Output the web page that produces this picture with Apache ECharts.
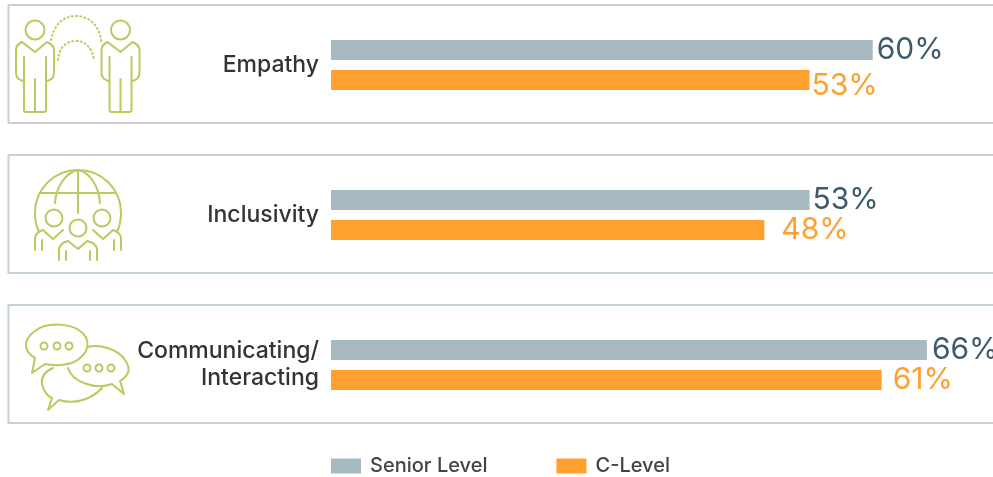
<!DOCTYPE html>
<html>
<head>
<meta charset="utf-8">
<style>html,body{margin:0;padding:0;background:#fff}#c{width:993px;height:477px}</style>
<script src="https://cdn.jsdelivr.net/npm/echarts@6/dist/echarts.min.js"></script>
</head>
<body>
<div id="c"></div>
<script>
// Skills, with the share of each leadership level that rated them
const categories = ['Empathy', 'Inclusivity', 'Communicating/\nInteracting'];
const seniorLevel = [60, 53, 66];
const cLevel = [53, 48, 61];
const seriesNames = ['Senior Level', 'C-Level'];

const FONT = 'Inter, "Open Sans", sans-serif';
const GREY = '#a7bac2', ORANGE = '#ffa02f', SLATE = '#3f5b6b', ICON = '#bcc95e';
const panelTops = [5, 155, 305];
const PANEL_H = 118;

// Hand placement of the value labels relative to the end of their bars
const seniorLabelShift = [[0, 0], [-1, 0], [1, 0]];
const cLevelLabelShift = [[-2, 6], [13, 0], [7, 0]];
const categoryPadTop = [0, 2, 4];

const grids = [], xAxes = [], yAxes = [], series = [];
categories.forEach((cat, i) => {
  grids.push({ left: 331, width: 632, top: panelTops[i] + 1, height: PANEL_H });
  xAxes.push({ gridIndex: i, type: 'value', min: 0, max: 70, show: false });
  yAxes.push({
    gridIndex: i, type: 'category', inverse: true, data: [cat],
    axisLine: { show: false }, axisTick: { show: false },
    axisLabel: { margin: 12, color: '#333', fontFamily: FONT, fontSize: 23, fontWeight: 500, lineHeight: 27, align: 'right', padding: [categoryPadTop[i], 0, 0, 0] }
  });
  [
    [seriesNames[0], seniorLevel, GREY, SLATE, seniorLabelShift],
    [seriesNames[1], cLevel, ORANGE, ORANGE, cLevelLabelShift]
  ].forEach(([name, vals, col, txt, shift]) => {
    series.push({
      name, type: 'bar', xAxisIndex: i, yAxisIndex: i, data: [vals[i]],
      barWidth: 20, barGap: '50%', itemStyle: { color: col }, silent: true,
      label: { show: true, position: 'right', distance: 4, offset: shift[i], formatter: '{c}%', color: txt, fontFamily: FONT, fontSize: 30, fontWeight: 400 }
    });
  });
});

// Outline helpers for the panel frames and pictograms
const line = { stroke: ICON, lineWidth: 2, fill: 'none', lineCap: 'round', lineJoin: 'round' };
let shapeCount = 0;
const pathEl = (d, style) => {
  const name = 'iconPath' + (shapeCount++);
  echarts.graphic.registerShape(name, echarts.graphic.extendPath(d, {}));
  return { type: name, style: Object.assign({}, line, style) };
};
const ring = (cx, cy, r) => ({ type: 'circle', shape: { cx, cy, r }, style: Object.assign({}, line) });

function person(dx) {
  const t = n => n + dx;
  return [
    ring(t(35), 30, 9.5),
    pathEl(`M${t(23)} 81 Q${t(16)} 79 ${t(16)} 73 L${t(16)} 50 Q${t(16)} 45 ${t(22)} 42 L${t(35)} 52 L${t(47)} 42 Q${t(54)} 45 ${t(54)} 50 L${t(54)} 73 Q${t(54)} 79 ${t(47)} 81`),
    pathEl(`M${t(24)} 57 L${t(24)} 110 Q${t(24)} 112 ${t(26)} 112 L${t(44)} 112 Q${t(46)} 112 ${t(46)} 110 L${t(46)} 57`),
    pathEl(`M${t(35)} 79 L${t(35)} 112`)
  ];
}
const dotted = { lineDash: [1, 3.2], lineWidth: 2 };
const empathyIcon = [
  ...person(0), ...person(85.5),
  pathEl('M51 40 C54 24 64 16 76 16 C89 16 100 26 101 41', dotted),
  pathEl('M58 60 C59 48 66 41 76 41 C86 41 93 49 94 61', dotted)
];
const inclusivityIcon = [
  pathEl('M39 232 C36 226 35 220 35 213 C35 189 54 170 78 170 C102 170 121 189 121 213 C121 220 120 226 117 232'),
  pathEl('M78 170 L78 213'),
  pathEl('M39.5 193 L115 193'),
  pathEl('M55 203 C56 187 66 172 78 170 C90 172 99 187 100 203'),
  ring(54, 218, 8.5), ring(78, 228, 8.5), ring(102, 218, 8.5),
  pathEl('M35 250 L35 238 Q36 232 43 230 L53 239 L63 230'),
  pathEl('M121 250 L121 238 Q120 232 113 230 L103 239 L93 230'),
  pathEl('M42 240 L42 250'), pathEl('M114 240 L114 250'),
  pathEl('M59 260 L59 249 Q60 243 68 241 L78 249 L87 241 Q96 243 97 249 L97 260'),
  pathEl('M66 251 L66 260'), pathEl('M90 251 L90 260')
];
const chatIcon = [
  pathEl('M45 364 C55 366 72 366 80 358 C90 350 90 338 80 331 C70 323 46 322 35 331 C22 340 24 352 35 358 L32 373 Z'),
  pathEl('M88 347 C100 344 118 349 125 360 C132 370 128 376 120 381 L124 394 L112 384 C95 390 72 382 68 368'),
  pathEl('M53 368 C44 372 41 378 42 384 C44 392 47 396 52 398 L48 410 L59 400 C75 405 92 399 102 388'),
  ring(44, 346, 3.5), ring(57, 346, 3.5), ring(69, 346, 3.5),
  ring(87, 368, 3.5), ring(99, 368, 3.5), ring(111, 368, 3.5)
];
const frames = panelTops.map(top => ({
  type: 'rect', shape: { x: 8.5, y: top, width: 1000, height: PANEL_H },
  style: { fill: '#fff', stroke: '#c6d3d7', lineWidth: 2 }, z: -10
}));

const chart = echarts.init(document.getElementById('c'), null, { renderer: 'canvas' });
chart.setOption({
  animation: false,
  backgroundColor: '#fff',
  grid: grids, xAxis: xAxes, yAxis: yAxes, series,
  legend: {
    data: seriesNames, left: 326, top: 451, orient: 'horizontal', selectedMode: false,
    icon: 'rect', itemWidth: 30, itemHeight: 15, itemGap: 69,
    textStyle: { color: '#444', fontFamily: FONT, fontSize: 20, fontWeight: 500, padding: [0, 0, 0, 4] }
  },
  graphic: { elements: [...frames, ...empathyIcon, ...inclusivityIcon, ...chatIcon] }
});
</script>
</body>
</html>
